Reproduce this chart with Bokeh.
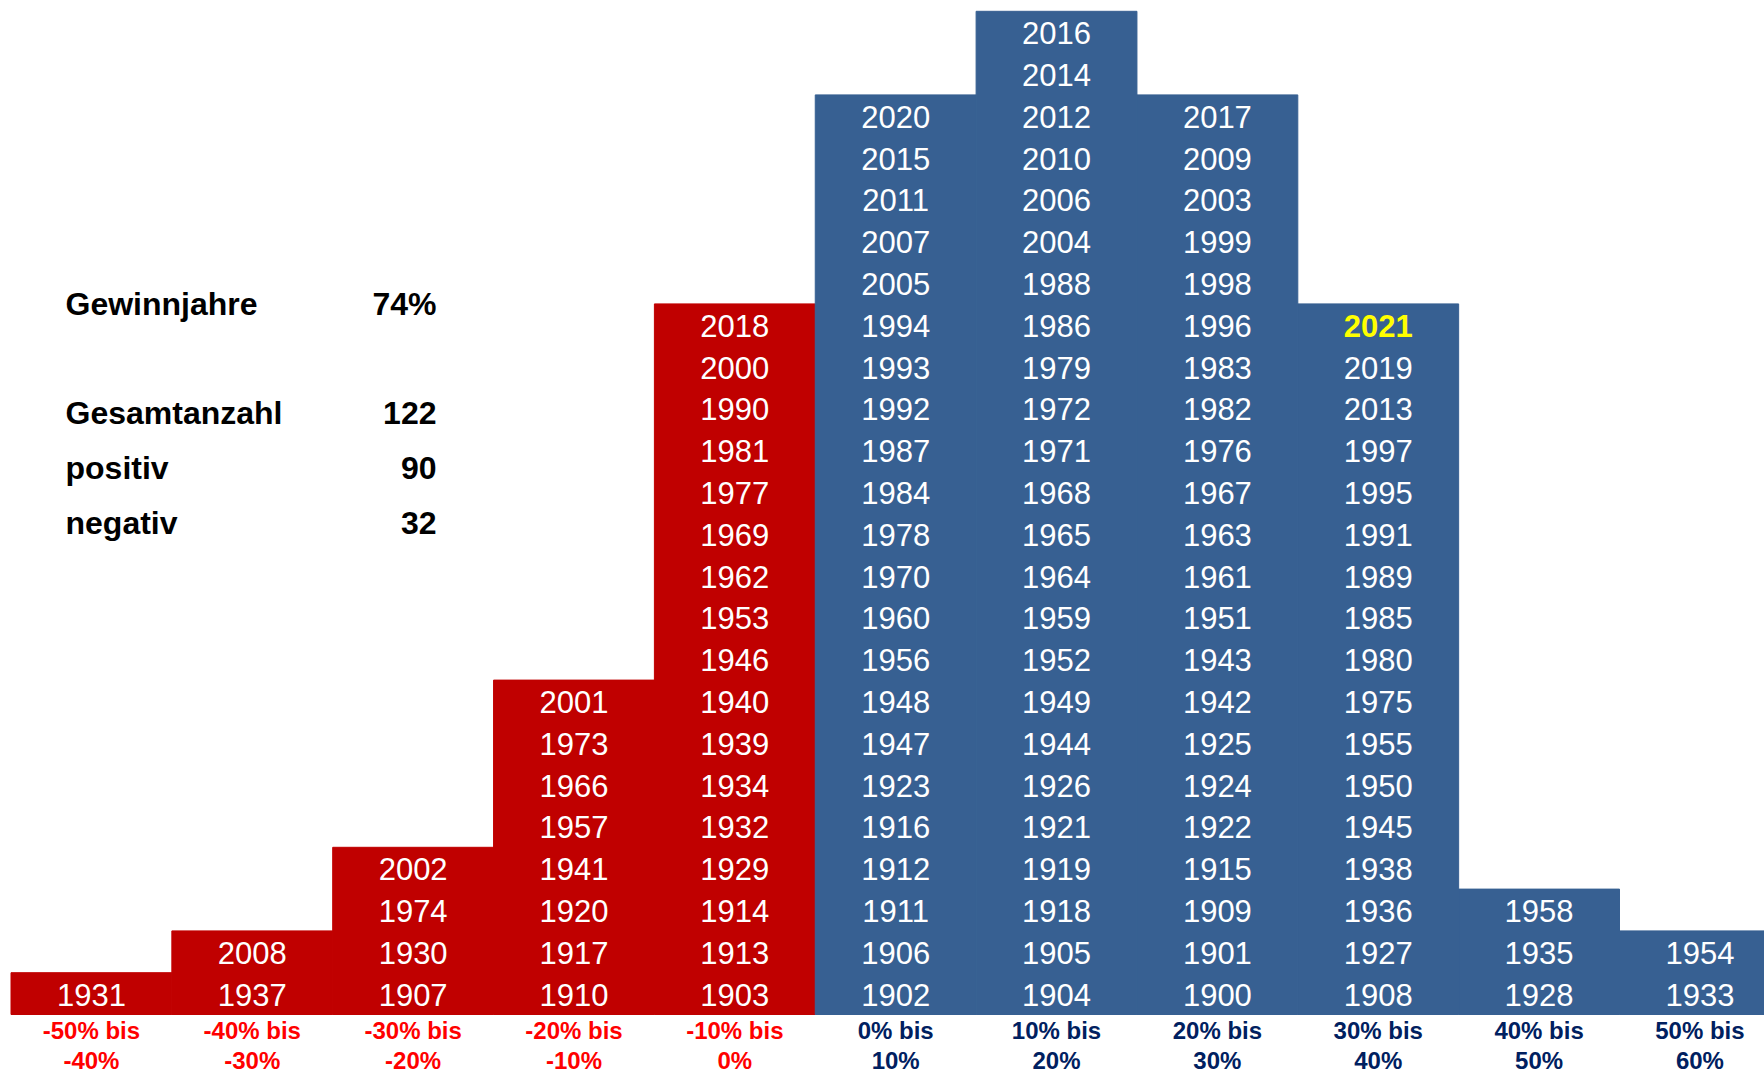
from bokeh.plotting import figure
from bokeh.models import Range1d, ColumnDataSource
from bokeh.embed import file_html
from bokeh.resources import INLINE
from bokeh.core.properties import value

# ---------------- data ----------------
bin_line1 = ["-50% bis", "-40% bis", "-30% bis", "-20% bis", "-10% bis",
             "0% bis", "10% bis", "20% bis", "30% bis", "40% bis", "50% bis"]
bin_line2 = ["-40%", "-30%", "-20%", "-10%", "0%",
             "10%", "20%", "30%", "40%", "50%", "60%"]

# years per bin, listed top to bottom as shown in the chart
years_m50_m40 = [1931]
years_m40_m30 = [2008, 1937]
years_m30_m20 = [2002, 1974, 1930, 1907]
years_m20_m10 = [2001, 1973, 1966, 1957, 1941, 1920, 1917, 1910]
years_m10_0 = [2018, 2000, 1990, 1981, 1977, 1969, 1962, 1953, 1946, 1940,
               1939, 1934, 1932, 1929, 1914, 1913, 1903]
years_0_10 = [2020, 2015, 2011, 2007, 2005, 1994, 1993, 1992, 1987, 1984, 1978,
              1970, 1960, 1956, 1948, 1947, 1923, 1916, 1912, 1911, 1906, 1902]
years_10_20 = [2016, 2014, 2012, 2010, 2006, 2004, 1988, 1986, 1979, 1972, 1971,
               1968, 1965, 1964, 1959, 1952, 1949, 1944, 1926, 1921, 1919, 1918,
               1905, 1904]
years_20_30 = [2017, 2009, 2003, 1999, 1998, 1996, 1983, 1982, 1976, 1967, 1963,
               1961, 1951, 1943, 1942, 1925, 1924, 1922, 1915, 1909, 1901, 1900]
years_30_40 = [2021, 2019, 2013, 1997, 1995, 1991, 1989, 1985, 1980, 1975, 1955,
               1950, 1945, 1938, 1936, 1927, 1908]
years_40_50 = [1958, 1935, 1928]
years_50_60 = [1954, 1933]

bins_years = [years_m50_m40, years_m40_m30, years_m30_m20, years_m20_m10, years_m10_0,
              years_0_10, years_10_20, years_20_30, years_30_40, years_40_50, years_50_60]
bin_negative = [True, True, True, True, True, False, False, False, False, False, False]
highlight_year = 2021

stat_labels = ["Gewinnjahre", "Gesamtanzahl", "positiv", "negativ"]
stat_values = ["74%", "122", "90", "32"]

# ---------------- layout (pixels) ----------------
FIG_W, FIG_H = 1764, 1074
COL_W = 160.85
LEFT_PX = 10.5
ROW_H = 41.8
BAR_BOTTOM = 1014
BOTTOM_PX = FIG_H - BAR_BOTTOM

def xd(px):
    return (px - LEFT_PX) / COL_W

def yd(py):
    return (FIG_H - py - BOTTOM_PX) / ROW_H

RED = "#C00000"
BLUE = "#376092"
RED_TXT = "#FF0000"
NAVY_TXT = "#002060"
FONT = "Liberation Sans"

p = figure(width=FIG_W, height=FIG_H,
           x_range=Range1d(xd(0), xd(FIG_W)),
           y_range=Range1d(yd(FIG_H), yd(0)),
           output_backend="svg", toolbar_location=None, min_border=0,
           x_axis_location=None, y_axis_location=None)
p.grid.visible = False
p.outline_line_color = None
p.background_fill_color = "white"
p.border_fill_color = "white"

# bars
xs = [i + 0.5 for i in range(len(bins_years))]
tops = [len(ys) for ys in bins_years]
colors = [RED if neg else BLUE for neg in bin_negative]
bar_src = ColumnDataSource(dict(x=xs, top=tops, color=colors))
p.vbar(x="x", top="top", bottom=0, width=1.0, source=bar_src,
       fill_color="color", line_color="color", line_width=1)

# year labels
nx, ny, nt = [], [], []
hx, hy, ht = [], [], []
for i, ys in enumerate(bins_years):
    n = len(ys)
    for j, yr in enumerate(ys):
        row = n - 1 - j
        if yr == highlight_year:
            hx.append(i + 0.5); hy.append(row + 0.5); ht.append(str(yr))
        else:
            nx.append(i + 0.5); ny.append(row + 0.5); nt.append(str(yr))

p.text(x="x", y="y", text="t", source=ColumnDataSource(dict(x=nx, y=ny, t=nt)),
       text_color="white", text_font=value(FONT), text_font_size="31px",
       text_align="center", text_baseline="alphabetic", y_offset=1)
p.text(x="x", y="y", text="t", source=ColumnDataSource(dict(x=hx, y=hy, t=ht)),
       text_color="#FFFF00", text_font=value(FONT), text_font_size="31px",
       text_font_style="bold", text_align="center", text_baseline="alphabetic", y_offset=1)

# bin labels below bars
lab_colors = [RED_TXT if neg else NAVY_TXT for neg in bin_negative]
p.text(x="x", y="y", text="t",
       source=ColumnDataSource(dict(x=xs, y=[yd(1030)] * len(xs), t=bin_line1, c=lab_colors)),
       text_color="c", text_font=value(FONT), text_font_size="24px",
       text_font_style="bold", text_align="center", text_baseline="alphabetic")
p.text(x="x", y="y", text="t",
       source=ColumnDataSource(dict(x=xs, y=[yd(1060)] * len(xs), t=bin_line2, c=lab_colors)),
       text_color="c", text_font=value(FONT), text_font_size="24px",
       text_font_style="bold", text_align="center", text_baseline="alphabetic")

# stats block
stat_centers = [303, 412, 467, 522]
sy = [yd(b) for b in stat_centers]
p.text(x=[xd(65)] * 4, y=sy, text=stat_labels, text_color="black",
       text_font=value(FONT), text_font_size="32px", text_font_style="bold",
       text_align="left", text_baseline="alphabetic")
p.text(x=[xd(436)] * 4, y=sy, text=stat_values, text_color="black",
       text_font=value(FONT), text_font_size="32px", text_font_style="bold",
       text_align="right", text_baseline="alphabetic")

open("out.html", "w").write(file_html(p, INLINE))
